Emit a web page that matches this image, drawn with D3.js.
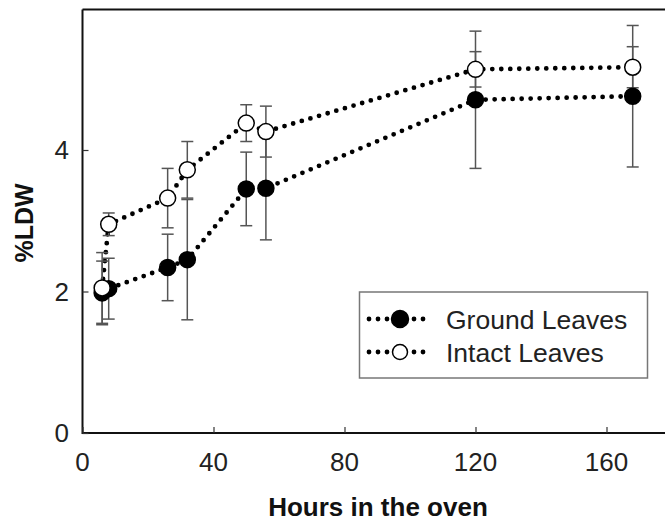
<!DOCTYPE html>
<html>
<head>
<meta charset="utf-8">
<script src="https://cdn.jsdelivr.net/npm/d3@7"></script>
<style>
  html, body { margin: 0; padding: 0; background: #fff; }
  svg { display: block; font-family: "Liberation Sans", Arial, sans-serif; }
</style>
</head>
<body>
<svg id="chart" width="665" height="523"></svg>
<script>
// hours in the oven
const hours = [6, 8, 26, 32, 50, 56, 120, 168];
// %LDW, ground leaves (filled) and intact leaves (open)
const groundVals = [1.98, 2.04, 2.34, 2.45, 3.45, 3.46, 4.71, 4.76];
const groundErr = [0.45, 0.43, 0.47, 0.85, 0.52, 0.73, 0.97, 1.0];
const intactVals = [2.05, 2.95, 3.32, 3.72, 4.38, 4.26, 5.14, 5.17];
const intactErr = [0.5, 0.16, 0.42, 0.4, 0.26, 0.36, 0.25, 0.29];
const xTicks = [0, 40, 80, 120, 160];
const yTicks = [0, 2, 4];
const seriesNames = ['Ground Leaves', 'Intact Leaves'];

const svg = d3.select('#chart');

const x = d3.scaleLinear().domain([0, 200]).range([82.5, 82.5 + 655]);
const y = d3.scaleLinear().domain([0, 6]).range([433, 8.5]);

const series = [
  { name: seriesNames[0], vals: groundVals, err: groundErr, fill: '#000' },
  { name: seriesNames[1], vals: intactVals, err: intactErr, fill: '#fff' }
].map(s => ({ ...s, pts: hours.map((h, i) => ({ h, v: s.vals[i], e: s.err[i] })) }));

// frame
const frame = svg.append('g').attr('stroke', '#111').attr('stroke-width', 2).attr('fill', 'none');
frame.append('line').attr('x1', x(0)).attr('x2', 665).attr('y1', y(0)).attr('y2', y(0));
frame.append('line').attr('x1', x(0)).attr('x2', 665).attr('y1', 9.5).attr('y2', 9.5);
frame.append('line').attr('x1', x(0)).attr('x2', x(0)).attr('y1', 9.5).attr('y2', y(0) + 1);

// axes with inward ticks
const xAxis = svg.append('g')
  .attr('transform', `translate(0,${y(0)})`)
  .call(d3.axisTop(x).tickValues(xTicks).tickSize(6).tickFormat(''));
xAxis.select('.domain').remove();
xAxis.selectAll('line').attr('stroke', '#333').attr('stroke-width', 1.2);

svg.append('g').selectAll('text')
  .data(xTicks)
  .join('text')
  .attr('x', d => x(d))
  .attr('y', 471)
  .attr('text-anchor', 'middle')
  .attr('font-size', 26)
  .attr('fill', '#222')
  .text(d => d);

const yAxis = svg.append('g')
  .attr('transform', `translate(${x(0)},0)`)
  .call(d3.axisRight(y).tickValues(yTicks).tickSize(6).tickFormat(''));
yAxis.select('.domain').remove();
yAxis.selectAll('line').attr('stroke', '#333').attr('stroke-width', 1.2);

svg.append('g').selectAll('text')
  .data(yTicks)
  .join('text')
  .attr('x', 69)
  .attr('y', d => y(d))
  .attr('dy', '0.36em')
  .attr('text-anchor', 'end')
  .attr('font-size', 26)
  .attr('fill', '#222')
  .text(d => d);

// axis titles
svg.append('text')
  .attr('x', 378)
  .attr('y', 516)
  .attr('text-anchor', 'middle')
  .attr('font-size', 26)
  .attr('font-weight', 'bold')
  .attr('fill', '#111')
  .text('Hours in the oven');

svg.append('text')
  .attr('transform', 'translate(33,223) rotate(-90)')
  .attr('text-anchor', 'middle')
  .attr('font-size', 25)
  .attr('font-weight', 'bold')
  .attr('fill', '#111')
  .text('%LDW');

// dotted lines
const line = d3.line().x(d => x(d.h)).y(d => y(d.v));
svg.append('g').selectAll('path')
  .data(series)
  .join('path')
  .attr('d', d => line(d.pts))
  .attr('fill', 'none')
  .attr('stroke', '#000')
  .attr('stroke-width', 4.8)
  .attr('stroke-linecap', 'round')
  .attr('stroke-dasharray', '0 9');

// error bars
const capW = 6;
const eb = svg.append('g').attr('stroke', '#555').attr('stroke-width', 1.5);
series.forEach(s => {
  const g = eb.append('g').selectAll('g').data(s.pts).join('g');
  g.append('line')
    .attr('x1', d => x(d.h)).attr('x2', d => x(d.h))
    .attr('y1', d => y(d.v + d.e)).attr('y2', d => y(d.v - d.e));
  g.append('line')
    .attr('x1', d => x(d.h) - capW).attr('x2', d => x(d.h) + capW)
    .attr('y1', d => y(d.v + d.e)).attr('y2', d => y(d.v + d.e));
  g.append('line')
    .attr('x1', d => x(d.h) - capW).attr('x2', d => x(d.h) + capW)
    .attr('y1', d => y(d.v - d.e)).attr('y2', d => y(d.v - d.e));
});

// markers
series.forEach(s => {
  svg.append('g').selectAll('circle')
    .data(s.pts)
    .join('circle')
    .attr('cx', d => x(d.h))
    .attr('cy', d => y(d.v))
    .attr('r', 8)
    .attr('fill', s.fill)
    .attr('stroke', '#000')
    .attr('stroke-width', 1.5);
});

// legend
const legend = svg.append('g');
legend.append('rect')
  .attr('x', 359.5).attr('y', 292)
  .attr('width', 288).attr('height', 86)
  .attr('fill', '#fff')
  .attr('stroke', '#777')
  .attr('stroke-width', 1.5);

const rowY = [319, 352];
series.forEach((s, i) => {
  const row = legend.append('g').attr('transform', `translate(0,${rowY[i]})`);
  row.append('line')
    .attr('x1', 369).attr('x2', 429).attr('y1', 0).attr('y2', 0)
    .attr('stroke', '#000')
    .attr('stroke-width', 4.8)
    .attr('stroke-linecap', 'round')
    .attr('stroke-dasharray', '0 9');
  row.append('circle')
    .attr('cx', 400).attr('cy', 0)
    .attr('r', i === 0 ? 8.5 : 7.5)
    .attr('fill', s.fill)
    .attr('stroke', '#000')
    .attr('stroke-width', 1.5);
  row.append('text')
    .attr('x', 446).attr('y', 0)
    .attr('dy', '0.36em')
    .attr('font-size', 26.5)
    .attr('fill', '#222')
    .text(s.name);
});
</script>
</body>
</html>
